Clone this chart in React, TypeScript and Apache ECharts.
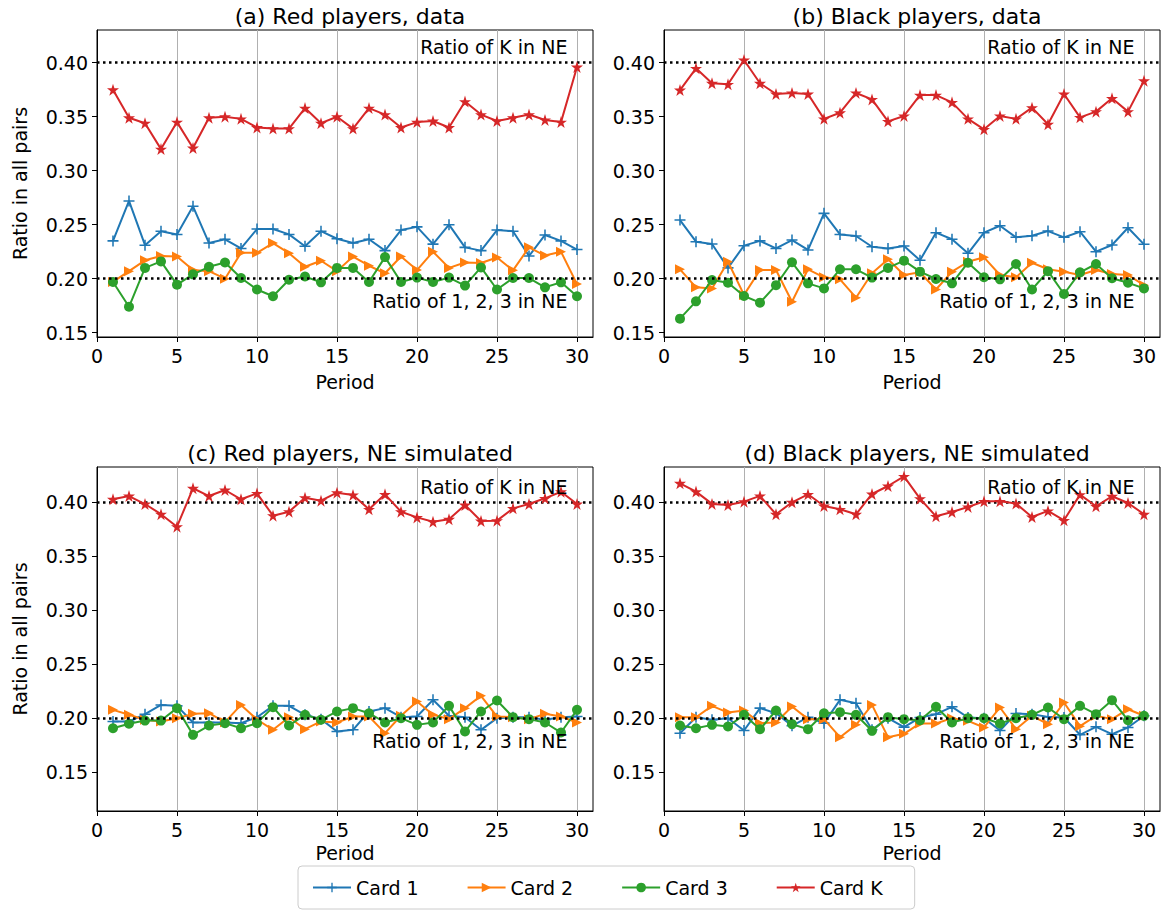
import React, { useEffect, useRef } from "react";
import * as echarts from "echarts";

const periods = [1, 2, 3, 4, 5, 6, 7, 8, 9, 10, 11, 12, 13, 14, 15, 16, 17, 18, 19, 20, 21, 22, 23, 24, 25, 26, 27, 28, 29, 30];

// (a) Red players, data
const aCard1 = [0.235, 0.272, 0.231, 0.244, 0.241, 0.267, 0.233, 0.2365, 0.228, 0.246, 0.246, 0.241, 0.23, 0.244, 0.237, 0.233, 0.2365, 0.226, 0.245, 0.248, 0.232, 0.25, 0.229, 0.226, 0.245, 0.244, 0.221, 0.2405, 0.235, 0.227];
const aCard2 = [0.197, 0.207, 0.217, 0.221, 0.2205, 0.208, 0.207, 0.2, 0.224, 0.224, 0.233, 0.2236, 0.211, 0.2166, 0.207, 0.2205, 0.212, 0.205, 0.2205, 0.208, 0.225, 0.21, 0.215, 0.2145, 0.2196, 0.2077, 0.229, 0.2214, 0.225, 0.195];
const aCard3 = [0.197, 0.174, 0.21, 0.216, 0.1945, 0.204, 0.211, 0.215, 0.2006, 0.19, 0.1837, 0.199, 0.202, 0.1966, 0.21, 0.21, 0.197, 0.22, 0.197, 0.201, 0.197, 0.201, 0.1936, 0.2104, 0.19, 0.2006, 0.2006, 0.192, 0.1966, 0.1837];
const aCardK = [0.375, 0.349, 0.344, 0.32, 0.345, 0.321, 0.349, 0.35, 0.348, 0.34, 0.339, 0.339, 0.358, 0.344, 0.35, 0.339, 0.358, 0.352, 0.34, 0.345, 0.346, 0.34, 0.364, 0.352, 0.346, 0.349, 0.352, 0.347, 0.345, 0.396];

// (b) Black players, data
const bCard1 = [0.2543, 0.2343, 0.2321, 0.21, 0.2306, 0.235, 0.228, 0.2358, 0.2266, 0.2605, 0.241, 0.2395, 0.2296, 0.228, 0.2303, 0.217, 0.2426, 0.2365, 0.2235, 0.2426, 0.249, 0.2383, 0.2398, 0.2441, 0.2383, 0.2435, 0.225, 0.2312, 0.2472, 0.2318];
const bCard2 = [0.2087, 0.192, 0.191, 0.2157, 0.185, 0.208, 0.208, 0.1787, 0.2087, 0.2013, 0.1994, 0.1824, 0.205, 0.218, 0.2034, 0.206, 0.19, 0.2065, 0.2157, 0.2198, 0.2034, 0.2013, 0.2148, 0.2087, 0.2065, 0.2034, 0.208, 0.2044, 0.2034, 0.194];
const bCard3 = [0.163, 0.179, 0.1988, 0.1963, 0.184, 0.1778, 0.194, 0.2152, 0.1957, 0.191, 0.2087, 0.2087, 0.201, 0.21, 0.2167, 0.2065, 0.1997, 0.1957, 0.2148, 0.2013, 0.1994, 0.2136, 0.19, 0.207, 0.1858, 0.2059, 0.2136, 0.2004, 0.1963, 0.191];
const bCardK = [0.3747, 0.3948, 0.381, 0.38, 0.4025, 0.381, 0.371, 0.372, 0.371, 0.348, 0.3537, 0.372, 0.366, 0.3457, 0.3507, 0.37, 0.37, 0.3633, 0.348, 0.3383, 0.3507, 0.348, 0.3584, 0.343, 0.371, 0.3494, 0.3547, 0.367, 0.3547, 0.3833];

// (c) Red players, NE simulated
const cCard1 = [0.1969, 0.1969, 0.2037, 0.2123, 0.2114, 0.196, 0.196, 0.196, 0.1954, 0.2009, 0.2114, 0.2114, 0.2031, 0.1991, 0.1877, 0.1892, 0.2062, 0.2093, 0.2009, 0.2015, 0.217, 0.2022, 0.2009, 0.1892, 0.2, 0.2009, 0.2009, 0.1985, 0.2009, 0.2015];
const cCard2 = [0.2077, 0.2031, 0.1985, 0.197, 0.2, 0.204, 0.2046, 0.1963, 0.2123, 0.1988, 0.1892, 0.2009, 0.1898, 0.197, 0.196, 0.2015, 0.2015, 0.1861, 0.2022, 0.2154, 0.2031, 0.1991, 0.2093, 0.2207, 0.2015, 0.2009, 0.1991, 0.204, 0.2015, 0.196];
const cCard3 = [0.1907, 0.1948, 0.1978, 0.1978, 0.2093, 0.1846, 0.1932, 0.1954, 0.1907, 0.1954, 0.2102, 0.1932, 0.2031, 0.1985, 0.2062, 0.2093, 0.2046, 0.196, 0.2, 0.1938, 0.196, 0.2114, 0.1877, 0.2062, 0.2164, 0.2009, 0.1991, 0.196, 0.1867, 0.2077];
const cCardK = [0.4028, 0.4058, 0.3984, 0.389, 0.3774, 0.413, 0.4058, 0.4114, 0.4028, 0.4083, 0.3876, 0.3913, 0.4043, 0.4015, 0.4089, 0.4068, 0.3935, 0.4074, 0.3913, 0.386, 0.382, 0.3843, 0.3975, 0.3827, 0.383, 0.3944, 0.3984, 0.4037, 0.4098, 0.3984];

// (d) Black players, NE simulated
const dCard1 = [0.1861, 0.2009, 0.1985, 0.2, 0.1886, 0.2093, 0.2046, 0.1929, 0.2009, 0.1954, 0.217, 0.2139, 0.1892, 0.2, 0.1917, 0.2006, 0.2037, 0.2105, 0.2006, 0.2, 0.1886, 0.2043, 0.2037, 0.2012, 0.2006, 0.1846, 0.192, 0.1852, 0.1914, 0.2022];
const dCard2 = [0.2009, 0.2009, 0.2114, 0.2052, 0.2071, 0.1954, 0.196, 0.2108, 0.1991, 0.1991, 0.1824, 0.1938, 0.2123, 0.1824, 0.1855, 0.1951, 0.1951, 0.2, 0.1975, 0.1914, 0.2099, 0.1898, 0.2022, 0.1944, 0.2145, 0.1926, 0.2022, 0.1991, 0.2083, 0.2022];
const dCard3 = [0.1932, 0.1907, 0.1938, 0.1923, 0.2031, 0.1898, 0.2071, 0.1945, 0.1898, 0.2046, 0.2056, 0.2031, 0.1883, 0.2009, 0.1991, 0.1981, 0.2105, 0.196, 0.2, 0.2, 0.1951, 0.2, 0.2031, 0.2099, 0.1991, 0.2114, 0.2037, 0.2167, 0.1981, 0.2022];
const dCardK = [0.4176, 0.4099, 0.3985, 0.3975, 0.4006, 0.4059, 0.3889, 0.4, 0.4074, 0.3966, 0.3935, 0.3889, 0.4077, 0.4151, 0.424, 0.4034, 0.387, 0.391, 0.3957, 0.4009, 0.4009, 0.3988, 0.3864, 0.392, 0.3833, 0.4071, 0.3963, 0.4056, 0.3994, 0.3889];

const seriesNames = ["Card 1", "Card 2", "Card 3", "Card K"];
const panelTitles = ["(a) Red players, data", "(b) Black players, data", "(c) Red players, NE simulated", "(d) Black players, NE simulated"];
const panelData = [
  [aCard1, aCard2, aCard3, aCardK],
  [bCard1, bCard2, bCard3, bCardK],
  [cCard1, cCard2, cCard3, cCardK],
  [dCard1, dCard2, dCard3, dCardK],
];
const xTicks = [0, 5, 10, 15, 20, 25, 30];
const yTicks = [0.15, 0.2, 0.25, 0.3, 0.35, 0.4];
const neK = 0.4;
const ne123 = 0.2;
const yRangeTop = [0.146, 0.4303];
const yRangeBottom = [0.114, 0.4327];

const FONT = "'DejaVu Sans', sans-serif";
const FS = 19;
const COLORS = ["#1f77b4", "#ff7f0e", "#2ca02c", "#d62728"];
const STAR = "path://M50,0 L61.2,34.5 L97.6,34.5 L68.2,55.9 L79.4,90.5 L50,69.1 L20.6,90.5 L31.8,55.9 L2.4,34.5 L38.8,34.5 Z";
const PLUS = "path://M43,0 H57 V43 H100 V57 H57 V100 H43 V57 H0 V43 H43 Z";
const TRI = "path://M0,0 L100,50 L0,100 Z";
const SYMBOLS = [PLUS, TRI, "circle", STAR];
const SIZES = [11, 10, 10, 12];

const GRIDS = [
  { left: 97, top: 30, width: 496, height: 307 },
  { left: 664, top: 30, width: 496, height: 307 },
  { left: 97, top: 467, width: 496, height: 344 },
  { left: 664, top: 467, width: 496, height: 344 },
];

export default function App() {
  const ref = useRef<HTMLDivElement>(null);
  useEffect(() => {
    const chart = echarts.init(ref.current!, null, { renderer: "svg" });
    const grids = GRIDS.map((g) => ({ ...g, show: true, borderColor: "#000", borderWidth: 1, backgroundColor: "transparent", containLabel: false }));
    const xAxes = GRIDS.map((_, i) => ({
      gridIndex: i,
      type: "value",
      min: 0,
      max: 31,
      interval: 5,
      axisLine: { show: true, onZero: false, lineStyle: { color: "#000", width: 1 } },
      axisTick: { show: true, length: 5, lineStyle: { color: "#000" }, customValues: xTicks },
      axisLabel: { customValues: xTicks, fontSize: FS, color: "#000", margin: 9, fontFamily: FONT },
      splitLine: { show: true, lineStyle: { color: "#b0b0b0", width: 1 } },
      name: "Period",
      nameLocation: "middle",
      nameGap: i < 2 ? 35 : 32,
      nameTextStyle: { fontSize: FS, color: "#000", fontFamily: FONT },
    }));
    const yAxes = GRIDS.map((_, i) => {
      const r = i < 2 ? yRangeTop : yRangeBottom;
      return {
        gridIndex: i,
        type: "value",
        min: r[0],
        max: r[1],
        axisLine: { show: true, onZero: false, lineStyle: { color: "#000", width: 1 } },
        axisTick: { show: true, length: 5, lineStyle: { color: "#000" }, customValues: yTicks },
        axisLabel: { customValues: yTicks, fontSize: FS, color: "#000", margin: 9, fontFamily: FONT, formatter: (v: number) => v.toFixed(2) },
        splitLine: { show: false },
        name: i % 2 === 0 ? "Ratio in all pairs" : "",
        nameLocation: "middle",
        nameGap: 68,
        nameTextStyle: { fontSize: FS, color: "#000", fontFamily: FONT },
      };
    });
    const series: any[] = [];
    panelData.forEach((arrs, pi) => {
      arrs.forEach((vals, si) => {
        const s: any = {
          name: seriesNames[si],
          type: "line",
          xAxisIndex: pi,
          yAxisIndex: pi,
          data: periods.map((p, k) => [p, vals[k]]),
          symbol: SYMBOLS[si],
          symbolSize: SIZES[si],
          showSymbol: true,
          lineStyle: { color: COLORS[si], width: 2 },
          itemStyle: { color: COLORS[si] },
          emphasis: { disabled: true },
          z: 2 + si,
        };
        if (si === 3) {
          s.markLine = {
            silent: true,
            symbol: "none",
            animation: false,
            label: { show: false },
            lineStyle: { color: "#000", width: 2.5, type: [2.5, 3.5] },
            data: [{ yAxis: neK }, { yAxis: ne123 }],
          };
        }
        series.push(s);
      });
    });
    const titles = panelTitles.map((t, i) => ({
      text: t,
      left: GRIDS[i].left + GRIDS[i].width / 2,
      top: i < 2 ? 0 : 437,
      textAlign: "center",
      textStyle: { fontSize: 22, fontWeight: "normal", color: "#000", fontFamily: FONT },
    }));
    chart.setOption({
      animation: false,
      backgroundColor: "#fff",
      title: titles,
      grid: grids,
      xAxis: xAxes,
      yAxis: yAxes,
      legend: {
        data: seriesNames,
        left: 298,
        top: 866,
        itemWidth: 38,
        itemHeight: 12,
        itemGap: 48,
        padding: [12, 32, 12, 14],
        borderColor: "#cccccc",
        borderWidth: 1,
        borderRadius: 4,
        textStyle: { fontSize: FS, color: "#000", fontFamily: FONT },
      },
      series,
    });
    const graphics: any[] = [];
    GRIDS.forEach((_, i) => {
      const pK = chart.convertToPixel({ gridIndex: i }, [29.4, neK]) as number[];
      const p2 = chart.convertToPixel({ gridIndex: i }, [29.4, ne123]) as number[];
      graphics.push({
        type: "text",
        x: pK[0],
        y: pK[1] - 6,
        z: 100,
        style: { text: "Ratio of K in NE", fontSize: FS, fill: "#000", fontFamily: FONT, align: "right", verticalAlign: "bottom" },
      });
      graphics.push({
        type: "text",
        x: p2[0],
        y: p2[1] + 13,
        z: 100,
        style: { text: "Ratio of 1, 2, 3 in NE", fontSize: FS, fill: "#000", fontFamily: FONT, align: "right", verticalAlign: "top" },
      });
    });
    chart.setOption({ graphic: graphics });
    return () => chart.dispose();
  }, []);
  return <div ref={ref} style={{ position: "fixed", left: 0, top: 0, width: 1166, height: 915 }} />;
}
